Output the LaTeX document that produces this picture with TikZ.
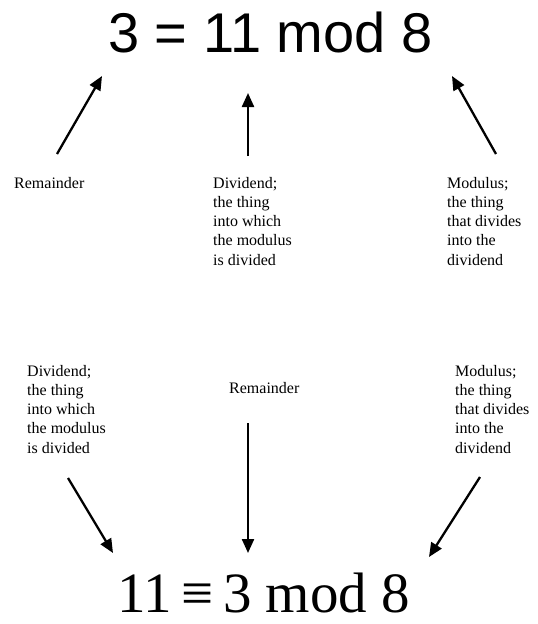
\documentclass[tikz,border=0pt]{standalone}
\usepackage{fontspec}
\setmainfont{Liberation Serif}
\newfontfamily\eqsans{Liberation Sans}
\usetikzlibrary{arrows.meta}
\tikzset{
  lbl/.style={anchor=north west, inner sep=0pt, align=left,
    font=\fontsize{16}{19.2}\selectfont},
  arr/.style={line width=2.3pt, -{Triangle[length=14pt,width=12pt]}},
}
\begin{document}
\begin{tikzpicture}[x=1pt,y=-1pt]
\useasboundingbox (0,0) rectangle (538,624);
% equations
\node[anchor=base west, inner sep=0pt, font=\eqsans\fontsize{56}{60}\selectfont] (top) at (108,52) {3 = 11 mod 8};
\node[anchor=base west, inner sep=0pt, font=\fontsize{57}{60}\selectfont] (bot) at (117,612) {11\,≡\,3 mod 8};
% top labels
\node[lbl] (tl) at (14,177) {Remainder};
\node[lbl] (tm) at (213,177) {Dividend;\\the thing\\into which\\the modulus\\is divided};
\node[lbl] (tr) at (447,177) {Modulus;\\the thing\\that divides\\into the\\dividend};
% bottom labels
\node[lbl] (bl) at (27,365) {Dividend;\\the thing\\into which\\the modulus\\is divided};
\node[lbl] (bm) at (229,382) {Remainder};
\node[lbl] (br) at (455,365) {Modulus;\\the thing\\that divides\\into the\\dividend};
% arrow end points
\coordinate (a1s) at (57,154);  \coordinate (a1e) at (102,76);
\coordinate (a2s) at (248,156); \coordinate (a2e) at (248,93);
\coordinate (a3s) at (496,154); \coordinate (a3e) at (452,76);
\coordinate (b1s) at (68,478);  \coordinate (b1e) at (113,553);
\coordinate (b2s) at (248,423); \coordinate (b2e) at (248,553);
\coordinate (b3s) at (480,477); \coordinate (b3e) at (429,557);
\draw[arr] (a1s) -- (a1e);
\draw[arr] (a2s) -- (a2e);
\draw[arr] (a3s) -- (a3e);
\draw[arr] (b1s) -- (b1e);
\draw[arr] (b2s) -- (b2e);
\draw[arr] (b3s) -- (b3e);
\end{tikzpicture}
\end{document}
